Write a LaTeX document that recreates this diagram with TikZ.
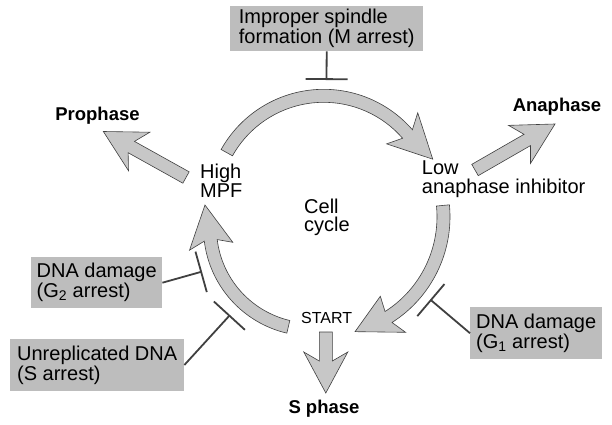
\documentclass[tikz,border=0pt]{standalone}
\usepackage{fontspec}
\setmainfont{Liberation Sans}
\usetikzlibrary{arrows.meta}
\definecolor{arrowfill}{gray}{0.78}
\definecolor{boxfill}{gray}{0.74}
\definecolor{bardark}{gray}{0.25}
\newcommand{\blockarrow}[3]{%
  \draw[fatarrow,shift={#1},rotate=#2] (0,-6.5) -- ({#3-32},-6.5) -- ({#3-41},-22) -- (#3,0)
    -- ({#3-41},22) -- ({#3-32},6.5) -- (0,6.5) -- cycle;}
\begin{document}
\begin{tikzpicture}[x=1pt,y=1pt,yscale=-1,
  fatarrow/.style={fill=arrowfill,draw=black!75,line width=0.6pt},
  causebox/.style={fill=boxfill,align=left,inner sep=3pt,font=\fontsize{20}{20}\selectfont,anchor=north west},
  txt/.style={align=left,inner sep=0pt,font=\fontsize{20}{19}\selectfont,anchor=north west},
  phase/.style={inner sep=0pt,font=\fontsize{18.5}{20}\selectfont\bfseries,anchor=base},
  inhibit/.style={draw=bardark,line width=1.8pt,-{Bar[width=42pt]}}]
\useasboundingbox (0,0) rectangle (612,424);

\begin{scope}[shift={(323.7,206.8)}]
\draw[fatarrow] (-150.8:104.5) arc[start angle=-150.8,end angle=-41,radius=104.5] -- (-45:89) -- (-23.6:119)
  -- (-45:133) -- (-41:117.5) arc[start angle=-41,end angle=-150.8,radius=117.5] -- cycle;
\end{scope}
\begin{scope}[shift={(324.7,216.8)}]
\draw[fatarrow] (-5.5:112.3) arc[start angle=-5.5,end angle=57.5,radius=112.3] -- (55:97) -- (75.2:118.8)
  -- (55:141) -- (57.5:125.3) arc[start angle=57.5,end angle=-5.5,radius=125.3] -- cycle;
\end{scope}
\begin{scope}[shift={(311.5,228)}]
\draw[fatarrow] (103.2:95) arc[start angle=103.2,end angle=173,radius=95] -- (169.7:80) -- (192.2:109)
  -- (169.7:124) -- (173:108) arc[start angle=173,end angle=103.2,radius=108] -- cycle;
\end{scope}

\blockarrow{(186,177.5)}{209.1}{94.6}
\blockarrow{(475,170)}{-29.9}{92.3}
\blockarrow{(325.8,332)}{90}{61}

\node[phase] (prophase) at (97.5,120.7) {Prophase};
\node[phase] (anaphase) at (557,111.7) {Anaphase};
\node[phase] (sphase) at (324,413.3) {S phase};
\node[txt] (mpf) at (200,163.7) {High\\MPF};
\node[txt] (inhib) at (421.7,160.4) {Low\\anaphase inhibitor};
\node[txt,font=\fontsize{20}{18.5}\selectfont] (cycle) at (304,198.7) {Cell\\cycle};
\node[inner sep=0pt,anchor=base,font=\fontsize{16}{16}\selectfont] (start) at (326.7,323.3) {START};

\node[causebox,minimum width=193pt,minimum height=45pt] (mbox) at (230,6) {Improper spindle\\formation (M arrest)};
\node[causebox,minimum width=131pt,minimum height=51pt] (gtwobox) at (31,257) {DNA damage\\(G\textsubscript{2} arrest)};
\node[causebox,minimum width=174pt,minimum height=51.5pt] (sbox) at (10,339) {Unreplicated DNA\\(S arrest)};
\node[causebox,minimum width=132pt,minimum height=52pt] (gonebox) at (470,307) {DNA damage\\(G\textsubscript{1} arrest)};

\coordinate (mbar) at (326.5,80);
\coordinate (gtwobar) at (202,271.6);
\coordinate (sbar) at (230,315);
\coordinate (gonebar) at (430.2,299.5);
\draw[inhibit] (mbox.south) -- (mbar);
\draw[inhibit] (gtwobox.east) -- (gtwobar);
\draw[inhibit] (sbox.east) -- (sbar);
\draw[inhibit] (gonebox.west) -- (gonebar);
\end{tikzpicture}
\end{document}
